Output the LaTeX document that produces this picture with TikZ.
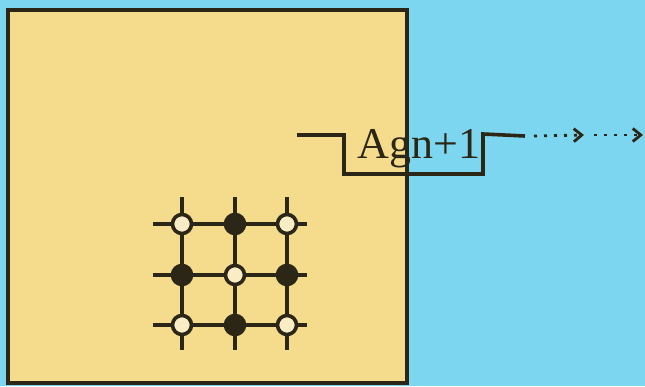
\documentclass[tikz,border=0pt]{standalone}
\usepackage{fontspec}
\setmainfont{Liberation Serif}
\usetikzlibrary{arrows.meta, positioning, calc}
\definecolor{skyback}{HTML}{7DD6F0}
\definecolor{sandfill}{HTML}{F4DC8C}
\definecolor{inkdark}{HTML}{2B2616}

\begin{document}
\begin{tikzpicture}[x=1pt, y=-1pt,
    gridline/.style={draw=inkdark, line width=3.6pt},
    openjunc/.style={circle, draw=inkdark, line width=3.6pt, fill=sandfill!50!white, minimum size=19pt, inner sep=0pt},
    fulljunc/.style={circle, draw=inkdark, line width=3.6pt, fill=inkdark, minimum size=19pt, inner sep=0pt},
    pulse/.style={draw=inkdark, line width=3.6pt},
    dotarrow/.style={-{Straight Barb[length=8pt, width=13pt, line width=2.8pt]}, line width=2.8pt, inkdark, dash pattern=on 3pt off 7pt}]
          % Fondo y bloque
          \fill[skyback] (0,0) rectangle (645,386);
          \useasboundingbox (0,0) rectangle (645,386);
          \draw[fill=sandfill, draw=inkdark, line width=3.8pt] (8,10) rectangle (407,383);
          % Rejilla 3x3
          \foreach \c/\x in {1/182,2/235,3/287}
            \draw[gridline] (\x,197) -- (\x,350);
          \foreach \r/\y in {1/224,2/275,3/325}
            \draw[gridline] (153,\y) -- (307,\y);
          % Nodos de la rejilla
          \node[openjunc] (g11) at (182,224) {};
          \node[fulljunc] (g12) at (235,224) {};
          \node[openjunc] (g13) at (287,224) {};
          \node[fulljunc] (g21) at (182,275) {};
          \node[openjunc] (g22) at (235,275) {};
          \node[fulljunc] (g23) at (287,275) {};
          \node[openjunc] (g31) at (182,325) {};
          \node[fulljunc] (g32) at (235,325) {};
          \node[openjunc] (g33) at (287,325) {};
          % Pulso con etiqueta
          \coordinate (pin) at (297,135);
          \coordinate (pout) at (525,136);
          \draw[pulse] (pin) -- (344,135) -- (344,174) -- (483,174) -- (483,134) -- (pout);
          \node[font=\fontsize{44}{48}\selectfont, text=inkdark, inner sep=0pt, anchor=base] (agn) at (419,158) {Agn+1};
          % Flechas punteadas
          \coordinate (amid) at (584,135);
          \coordinate (aend) at (643,135);
          \draw[dotarrow] ($(pout)+(9,0)$) -- (amid);
          \draw[dotarrow] ($(amid)+(10,0)$) -- (aend);
        \end{tikzpicture}
\end{document}
